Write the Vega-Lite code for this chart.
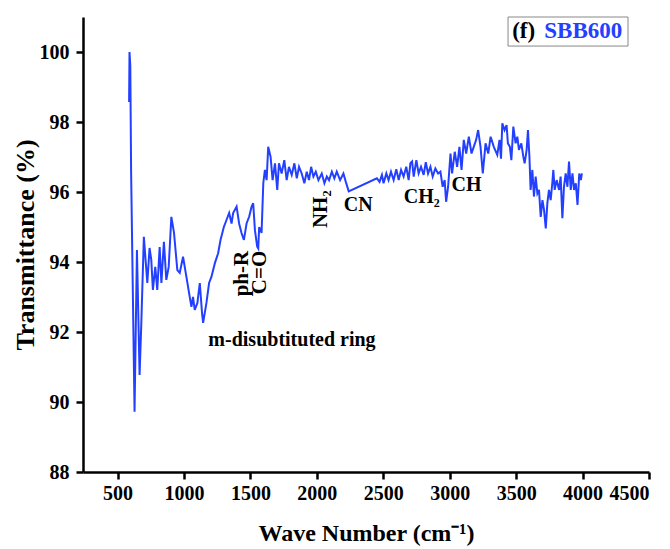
{
  "$schema": "https://vega.github.io/schema/vega-lite/v6.json",
  "autosize": {"type": "none"},
  "width": 566,
  "height": 455,
  "padding": {"left": 83, "top": 17, "right": 21, "bottom": 77},
  "background": "white",
  "config": {
    "view": {"stroke": null},
    "axis": {
      "grid": false,
      "domainColor": "black",
      "domainWidth": 2.5,
      "tickColor": "black",
      "tickWidth": 2.5,
      "tickSize": 7,
      "labelFont": "Liberation Serif",
      "labelFontWeight": "bold",
      "labelFontSize": 20,
      "labelColor": "black",
      "labelOverlap": false,
      "titleFont": "Liberation Serif",
      "titleFontWeight": "bold",
      "titleColor": "black"
    }
  },
  "datasets": {
    "spectrum": [
      {"wn": 587, "t": 98.57}, {"wn": 590, "t": 100.0}, {"wn": 596, "t": 99.6}, {"wn": 602, "t": 96.6},
      {"wn": 628, "t": 89.72}, {"wn": 646, "t": 94.34}, {"wn": 666, "t": 90.77}, {"wn": 679, "t": 92.26},
      {"wn": 698, "t": 94.72}, {"wn": 724, "t": 93.4}, {"wn": 741, "t": 94.4}, {"wn": 754, "t": 94.06},
      {"wn": 766, "t": 93.2}, {"wn": 784, "t": 93.86}, {"wn": 799, "t": 93.2}, {"wn": 817, "t": 94.43},
      {"wn": 830, "t": 93.4}, {"wn": 849, "t": 94.58}, {"wn": 867, "t": 93.49}, {"wn": 885, "t": 93.86},
      {"wn": 905, "t": 95.29}, {"wn": 925, "t": 94.83}, {"wn": 950, "t": 93.77}, {"wn": 968, "t": 93.69},
      {"wn": 993, "t": 94.15}, {"wn": 1018, "t": 93.58}, {"wn": 1043, "t": 93.01}, {"wn": 1056, "t": 92.72},
      {"wn": 1068, "t": 93.0}, {"wn": 1081, "t": 92.63}, {"wn": 1101, "t": 92.83}, {"wn": 1119, "t": 93.4},
      {"wn": 1136, "t": 92.54}, {"wn": 1144, "t": 92.26}, {"wn": 1169, "t": 92.83}, {"wn": 1189, "t": 93.4},
      {"wn": 1207, "t": 93.58}, {"wn": 1232, "t": 93.96}, {"wn": 1257, "t": 94.25}, {"wn": 1275, "t": 94.63},
      {"wn": 1300, "t": 95.0}, {"wn": 1320, "t": 95.2}, {"wn": 1340, "t": 95.4}, {"wn": 1358, "t": 95.1},
      {"wn": 1370, "t": 95.4}, {"wn": 1396, "t": 95.58}, {"wn": 1415, "t": 95.1}, {"wn": 1433, "t": 94.83},
      {"wn": 1451, "t": 94.63}, {"wn": 1471, "t": 95.1}, {"wn": 1491, "t": 95.3}, {"wn": 1509, "t": 95.58},
      {"wn": 1521, "t": 95.68}, {"wn": 1534, "t": 94.91}, {"wn": 1551, "t": 94.44}, {"wn": 1559, "t": 94.39},
      {"wn": 1566, "t": 95.0}, {"wn": 1584, "t": 94.83}, {"wn": 1597, "t": 96.25}, {"wn": 1609, "t": 96.63},
      {"wn": 1622, "t": 96.34}, {"wn": 1634, "t": 97.29}, {"wn": 1652, "t": 97.0}, {"wn": 1667, "t": 96.34},
      {"wn": 1685, "t": 96.82}, {"wn": 1702, "t": 96.06}, {"wn": 1715, "t": 96.82}, {"wn": 1735, "t": 96.53},
      {"wn": 1755, "t": 96.91}, {"wn": 1773, "t": 96.34}, {"wn": 1790, "t": 96.72}, {"wn": 1811, "t": 96.49},
      {"wn": 1831, "t": 96.82}, {"wn": 1849, "t": 96.39}, {"wn": 1866, "t": 96.72}, {"wn": 1886, "t": 96.53},
      {"wn": 1906, "t": 96.25}, {"wn": 1924, "t": 96.58}, {"wn": 1941, "t": 96.34}, {"wn": 1957, "t": 96.72},
      {"wn": 1974, "t": 96.44}, {"wn": 1992, "t": 96.58}, {"wn": 2012, "t": 96.34}, {"wn": 2037, "t": 96.53},
      {"wn": 2057, "t": 96.25}, {"wn": 2075, "t": 96.44}, {"wn": 2092, "t": 96.34}, {"wn": 2113, "t": 96.58},
      {"wn": 2132, "t": 96.39}, {"wn": 2150, "t": 96.58}, {"wn": 2175, "t": 96.34}, {"wn": 2200, "t": 96.53},
      {"wn": 2218, "t": 96.29}, {"wn": 2240, "t": 96.02}, {"wn": 2452, "t": 96.39}, {"wn": 2472, "t": 96.29},
      {"wn": 2490, "t": 96.49}, {"wn": 2502, "t": 96.25}, {"wn": 2523, "t": 96.53}, {"wn": 2540, "t": 96.34},
      {"wn": 2558, "t": 96.58}, {"wn": 2578, "t": 96.34}, {"wn": 2598, "t": 96.65}, {"wn": 2616, "t": 96.34},
      {"wn": 2634, "t": 96.63}, {"wn": 2653, "t": 96.44}, {"wn": 2673, "t": 96.72}, {"wn": 2691, "t": 96.34},
      {"wn": 2704, "t": 96.82}, {"wn": 2717, "t": 96.87}, {"wn": 2729, "t": 96.44}, {"wn": 2749, "t": 96.91},
      {"wn": 2766, "t": 96.53}, {"wn": 2784, "t": 96.72}, {"wn": 2804, "t": 96.49}, {"wn": 2820, "t": 96.85},
      {"wn": 2837, "t": 96.53}, {"wn": 2855, "t": 96.72}, {"wn": 2872, "t": 96.44}, {"wn": 2892, "t": 96.67},
      {"wn": 2913, "t": 96.53}, {"wn": 2930, "t": 96.58}, {"wn": 2947, "t": 96.15}, {"wn": 2962, "t": 96.34},
      {"wn": 2973, "t": 95.72}, {"wn": 2988, "t": 96.15}, {"wn": 3006, "t": 97.1}, {"wn": 3018, "t": 96.53},
      {"wn": 3038, "t": 97.15}, {"wn": 3056, "t": 96.72}, {"wn": 3073, "t": 97.29}, {"wn": 3089, "t": 96.63},
      {"wn": 3106, "t": 97.49}, {"wn": 3124, "t": 97.1}, {"wn": 3144, "t": 97.58}, {"wn": 3164, "t": 97.1},
      {"wn": 3181, "t": 97.29}, {"wn": 3199, "t": 97.49}, {"wn": 3214, "t": 97.77}, {"wn": 3232, "t": 97.29},
      {"wn": 3249, "t": 96.53}, {"wn": 3270, "t": 97.39}, {"wn": 3290, "t": 97.1}, {"wn": 3308, "t": 97.58},
      {"wn": 3332, "t": 97.29}, {"wn": 3358, "t": 97.06}, {"wn": 3375, "t": 97.49}, {"wn": 3386, "t": 96.95},
      {"wn": 3396, "t": 97.96}, {"wn": 3413, "t": 97.77}, {"wn": 3428, "t": 97.91}, {"wn": 3438, "t": 97.39},
      {"wn": 3453, "t": 97.29}, {"wn": 3464, "t": 96.91}, {"wn": 3479, "t": 97.87}, {"wn": 3496, "t": 97.39},
      {"wn": 3509, "t": 97.58}, {"wn": 3521, "t": 97.2}, {"wn": 3539, "t": 97.39}, {"wn": 3554, "t": 97.01},
      {"wn": 3564, "t": 96.82}, {"wn": 3579, "t": 97.2}, {"wn": 3589, "t": 97.77}, {"wn": 3600, "t": 97.01},
      {"wn": 3609, "t": 96.06}, {"wn": 3622, "t": 96.63}, {"wn": 3634, "t": 95.87}, {"wn": 3647, "t": 96.44},
      {"wn": 3660, "t": 95.96}, {"wn": 3672, "t": 96.06}, {"wn": 3685, "t": 95.29}, {"wn": 3698, "t": 95.77},
      {"wn": 3710, "t": 95.49}, {"wn": 3723, "t": 94.96}, {"wn": 3735, "t": 95.68}, {"wn": 3747, "t": 96.06},
      {"wn": 3760, "t": 95.77}, {"wn": 3772, "t": 96.25}, {"wn": 3780, "t": 96.63}, {"wn": 3790, "t": 96.06},
      {"wn": 3805, "t": 96.34}, {"wn": 3823, "t": 96.06}, {"wn": 3835, "t": 96.44}, {"wn": 3848, "t": 95.25},
      {"wn": 3860, "t": 96.15}, {"wn": 3873, "t": 96.53}, {"wn": 3886, "t": 96.15}, {"wn": 3898, "t": 96.87},
      {"wn": 3911, "t": 96.06}, {"wn": 3924, "t": 96.53}, {"wn": 3936, "t": 96.06}, {"wn": 3949, "t": 96.25},
      {"wn": 3962, "t": 95.63}, {"wn": 3975, "t": 96.53}, {"wn": 3987, "t": 96.34}, {"wn": 3995, "t": 96.53}
    ],
    "labelsFlat": [
      {"wn": 1813, "t": 91.77, "label": "m-disubtituted ring"},
      {"wn": 2311, "t": 95.64, "label": "CN"},
      {"wn": 2790, "t": 95.85, "label": "CH₂"},
      {"wn": 3126, "t": 96.19, "label": "CH"}
    ],
    "labelsRot": [
      {"wn": 1434, "t": 93.67, "label": "ph-R"},
      {"wn": 1572, "t": 93.7, "label": "C=O"},
      {"wn": 2032, "t": 95.51, "label": "NH₂"}
    ],
    "box": [{"x1": 3439, "x2": 4342, "y1": 100.17, "y2": 101.0}],
    "tagF": [{"wn": 3470, "t": 100.6, "label": "(f)"}],
    "tagName": [{"wn": 3712, "t": 100.6, "label": "SBB600"}]
  },
  "layer": [
    {
      "data": {"name": "spectrum"},
      "mark": {"type": "line", "color": "#2440ff", "strokeWidth": 2, "clip": true},
      "encoding": {
        "x": {
          "field": "wn", "type": "quantitative",
          "scale": {"domain": [240, 4500], "nice": false, "zero": false},
          "axis": {"values": [500, 1000, 1500, 2000, 2500, 3000, 3500, 4000, 4500], "format": "d", "title": "Wave Number (cm⁻¹)", "titleFontSize": 24, "labelPadding": 4, "titlePadding": 18}
        },
        "y": {
          "field": "t", "type": "quantitative",
          "scale": {"domain": [88, 101], "nice": false, "zero": false},
          "axis": {"values": [88, 90, 92, 94, 96, 98, 100], "format": "d", "title": "Transmittance (%)", "titleFontSize": 26, "labelPadding": 7, "titlePadding": 1}
        }
      }
    },
    {
      "data": {"name": "labelsFlat"},
      "mark": {"type": "text", "font": "Liberation Serif", "fontWeight": "bold", "fontSize": 20, "color": "black", "align": "center", "baseline": "middle"},
      "encoding": {
        "x": {"field": "wn", "type": "quantitative"},
        "y": {"field": "t", "type": "quantitative"},
        "text": {"field": "label"}
      }
    },
    {
      "data": {"name": "labelsRot"},
      "mark": {"type": "text", "font": "Liberation Serif", "fontWeight": "bold", "fontSize": 21, "color": "black", "align": "center", "baseline": "middle", "angle": 270},
      "encoding": {
        "x": {"field": "wn", "type": "quantitative"},
        "y": {"field": "t", "type": "quantitative"},
        "text": {"field": "label"}
      }
    },
    {
      "data": {"name": "box"},
      "mark": {"type": "rect", "fill": "white", "stroke": "#888888", "strokeWidth": 1},
      "encoding": {
        "x": {"field": "x1", "type": "quantitative"},
        "x2": {"field": "x2"},
        "y": {"field": "y1", "type": "quantitative"},
        "y2": {"field": "y2"}
      }
    },
    {
      "data": {"name": "tagF"},
      "mark": {"type": "text", "font": "Liberation Serif", "fontWeight": "bold", "fontSize": 23, "color": "black", "align": "left", "baseline": "middle"},
      "encoding": {
        "x": {"field": "wn", "type": "quantitative"},
        "y": {"field": "t", "type": "quantitative"},
        "text": {"field": "label"}
      }
    },
    {
      "data": {"name": "tagName"},
      "mark": {"type": "text", "font": "Liberation Serif", "fontWeight": "bold", "fontSize": 23, "color": "#2440ff", "align": "left", "baseline": "middle"},
      "encoding": {
        "x": {"field": "wn", "type": "quantitative"},
        "y": {"field": "t", "type": "quantitative"},
        "text": {"field": "label"}
      }
    }
  ]
}
